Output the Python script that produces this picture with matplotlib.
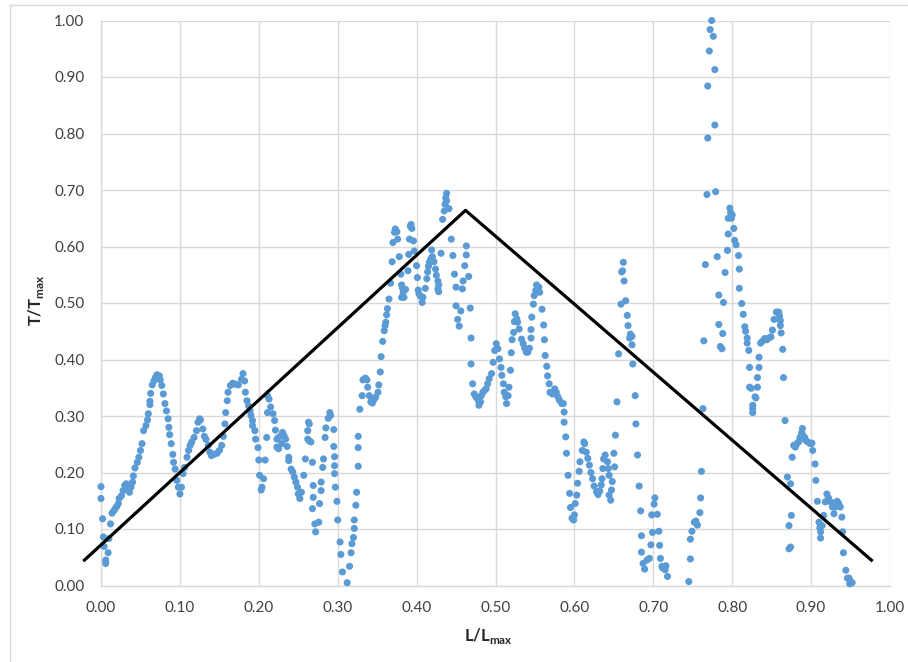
import matplotlib
matplotlib.use("Agg")
import matplotlib.pyplot as plt
from matplotlib.lines import Line2D

plt.rcParams['font.family'] = ['Lato', 'DejaVu Sans']

# ---- data ----
seg_a = [(0.000,0.175),(0.000,0.154),(0.002,0.118),(0.003,0.086),(0.004,0.069),(0.006,0.045),(0.006,0.039),
 (0.009,0.058),(0.010,0.083),(0.012,0.109),(0.014,0.128),(0.016,0.132),(0.018,0.136),(0.020,0.140),(0.022,0.145),
 (0.023,0.154),(0.026,0.159),(0.028,0.168),(0.030,0.177),(0.032,0.180),(0.034,0.174),(0.036,0.165),(0.038,0.174),
 (0.040,0.183),(0.041,0.194),(0.043,0.208),(0.046,0.218),(0.048,0.227),(0.050,0.239),(0.052,0.251),(0.054,0.274),
 (0.057,0.283),(0.059,0.293),(0.060,0.304),(0.062,0.320),(0.062,0.326),(0.063,0.340),(0.065,0.355),(0.067,0.362),
 (0.069,0.368),(0.071,0.373),(0.074,0.371),(0.075,0.364),(0.077,0.354),(0.079,0.339),(0.081,0.322),(0.083,0.309),
 (0.085,0.295),(0.086,0.280),(0.087,0.267),(0.089,0.251),(0.091,0.232),(0.092,0.218),(0.094,0.206),(0.096,0.186),
 (0.098,0.174),(0.100,0.162),(0.102,0.174),(0.104,0.198),(0.106,0.209),(0.109,0.227),(0.111,0.239),(0.113,0.248),
 (0.115,0.254),(0.118,0.262),(0.121,0.274),(0.123,0.289),(0.125,0.295),(0.126,0.293),(0.129,0.277),(0.131,0.264),
 (0.133,0.259),(0.136,0.248),(0.138,0.236),(0.140,0.230),(0.143,0.232),(0.147,0.234),(0.150,0.239),(0.153,0.248),
 (0.155,0.264),(0.157,0.286),(0.158,0.306),(0.160,0.327),(0.161,0.342),(0.164,0.354),(0.167,0.358),(0.171,0.356),
 (0.174,0.355)]

seg_b = [(0.178,0.365),(0.180,0.375),(0.182,0.362),(0.183,0.342),(0.185,0.327),(0.187,0.318),(0.189,0.309),
 (0.190,0.301),(0.192,0.292),(0.192,0.283),(0.195,0.274),(0.196,0.259),(0.199,0.244),(0.200,0.222),(0.201,0.195),
 (0.203,0.169),(0.204,0.174),(0.206,0.189),(0.208,0.222),(0.210,0.262),(0.211,0.336),(0.211,0.306),(0.213,0.330),
 (0.215,0.316),(0.218,0.304),(0.220,0.292),(0.221,0.275),(0.223,0.259),(0.223,0.245),(0.225,0.262),(0.225,0.242),
 (0.228,0.265),(0.229,0.251),(0.230,0.271),(0.232,0.265),(0.234,0.259),(0.236,0.246),(0.238,0.227),(0.238,0.221),
 (0.241,0.206),(0.243,0.201),(0.245,0.192),(0.247,0.183),(0.249,0.174),(0.250,0.162),(0.252,0.154),(0.254,0.165),
 (0.257,0.195),(0.259,0.224),(0.262,0.259),(0.262,0.274),(0.263,0.289),(0.264,0.286),(0.264,0.256),(0.266,0.254),
 (0.268,0.218),(0.269,0.177),(0.269,0.156),(0.268,0.136),(0.271,0.109),(0.272,0.095),(0.276,0.112),(0.277,0.145),
 (0.279,0.168),(0.279,0.183),(0.281,0.209),(0.282,0.224),(0.284,0.262),(0.285,0.279),(0.288,0.296),(0.290,0.306),
 (0.291,0.301),(0.295,0.276),(0.295,0.246),(0.296,0.228),(0.296,0.212),(0.296,0.198),(0.297,0.174),(0.299,0.149),
 (0.300,0.116),(0.303,0.077),(0.304,0.055),(0.306,0.024),(0.312,0.005),(0.315,0.034),(0.317,0.058),(0.318,0.074),
 (0.320,0.085),(0.321,0.101),(0.321,0.116),(0.323,0.142),(0.324,0.165),(0.326,0.211),(0.326,0.244),(0.326,0.264)]

seg_c = [(0.328,0.312),(0.331,0.336),(0.332,0.364),(0.335,0.367),(0.337,0.364),(0.338,0.351),(0.340,0.336),
 (0.342,0.325),(0.344,0.323),(0.346,0.329),(0.348,0.333),(0.351,0.342),(0.352,0.355),(0.354,0.378),(0.355,0.405),
 (0.357,0.432),(0.359,0.451),(0.360,0.460),(0.361,0.466),(0.362,0.479),(0.363,0.490),(0.365,0.507),(0.367,0.535),
 (0.369,0.573),(0.370,0.607),(0.372,0.625),(0.373,0.631),(0.375,0.626),(0.376,0.613),(0.378,0.582),(0.380,0.551),
 (0.381,0.532),(0.382,0.527),(0.383,0.519),(0.381,0.510),(0.384,0.510),(0.386,0.524),(0.389,0.557),(0.390,0.586),
 (0.391,0.613),(0.392,0.636),(0.393,0.639),(0.394,0.632),(0.396,0.610),(0.397,0.592),(0.400,0.566),(0.401,0.545),
 (0.402,0.523),(0.403,0.516),(0.405,0.512),(0.407,0.501),(0.408,0.510),(0.411,0.526),(0.413,0.543),(0.414,0.555),
 (0.415,0.565),(0.416,0.572),(0.418,0.578),(0.419,0.594),(0.420,0.582),(0.422,0.573),(0.424,0.560),(0.425,0.549),
 (0.427,0.539),(0.428,0.532),(0.427,0.525),(0.428,0.520),(0.431,0.588),(0.433,0.648),(0.435,0.663),(0.436,0.675),
 (0.437,0.686),(0.438,0.694),(0.438,0.681),(0.441,0.667),(0.444,0.613)]

seg_d = [(0.446,0.584),(0.448,0.551),(0.450,0.528),(0.450,0.495),(0.452,0.471),(0.454,0.459),(0.456,0.486),
 (0.458,0.525),(0.459,0.539),(0.461,0.566),(0.463,0.585),(0.463,0.601),(0.466,0.547),(0.468,0.491),(0.469,0.438),
 (0.469,0.392),(0.471,0.357),(0.473,0.339),(0.475,0.334),(0.478,0.328),(0.479,0.319),(0.481,0.325),(0.482,0.336),
 (0.484,0.342),(0.486,0.345),(0.488,0.348),(0.490,0.357),(0.492,0.366),(0.495,0.375),(0.497,0.395),(0.499,0.416),
 (0.501,0.428),(0.503,0.419),(0.505,0.401),(0.507,0.386),(0.508,0.372),(0.510,0.357),(0.511,0.342),(0.513,0.334),
 (0.514,0.322),(0.516,0.336),(0.517,0.351),(0.519,0.381),(0.520,0.412),(0.521,0.435),(0.523,0.448),(0.524,0.467),
 (0.525,0.481),(0.527,0.472),(0.528,0.466),(0.530,0.454),(0.533,0.436),(0.535,0.428),(0.537,0.420),(0.539,0.413),
 (0.541,0.413),(0.543,0.420),(0.545,0.438),(0.545,0.453),(0.546,0.475),(0.548,0.498),(0.549,0.513),(0.551,0.522),
 (0.552,0.532),(0.555,0.528),(0.556,0.519),(0.559,0.489),(0.561,0.461),(0.562,0.435),(0.563,0.407),(0.565,0.388),
 (0.566,0.371),(0.568,0.357),(0.569,0.342),(0.572,0.339),(0.575,0.348),(0.577,0.342),(0.579,0.334),(0.581,0.328),
 (0.584,0.322),(0.586,0.322),(0.587,0.307),(0.587,0.289),(0.589,0.263),(0.590,0.234),(0.592,0.195),(0.594,0.163),
 (0.595,0.138),(0.597,0.119),(0.599,0.116),(0.600,0.125),(0.601,0.145),(0.603,0.160),(0.604,0.181),(0.606,0.202),
 (0.607,0.219),(0.610,0.239),(0.612,0.254),(0.613,0.251),(0.615,0.236),(0.617,0.225),(0.619,0.213),(0.621,0.200),
 (0.623,0.189),(0.625,0.176),(0.628,0.166),(0.630,0.161),(0.632,0.167),(0.634,0.178),(0.635,0.189),(0.636,0.207),
 (0.637,0.224),(0.639,0.231),(0.642,0.219),(0.643,0.207),(0.644,0.195)]

seg_e = [(0.644,0.160),(0.646,0.151),(0.647,0.169),(0.648,0.184),(0.650,0.234),(0.651,0.210),(0.652,0.266),
 (0.654,0.325),(0.656,0.410),(0.659,0.498),(0.660,0.555),(0.661,0.557),(0.662,0.572),(0.663,0.539),(0.665,0.504),
 (0.667,0.478),(0.668,0.460),(0.670,0.438),(0.671,0.445),(0.673,0.441),(0.673,0.426),(0.674,0.392),(0.677,0.336),
 (0.678,0.286),(0.680,0.231),(0.682,0.176),(0.684,0.132),(0.685,0.088),(0.685,0.059),(0.687,0.039),(0.689,0.029),
 (0.692,0.045),(0.695,0.048),(0.697,0.072),(0.699,0.094),(0.698,0.125),(0.701,0.144),(0.702,0.155),(0.705,0.126),
 (0.707,0.096),(0.708,0.071),(0.709,0.048),(0.711,0.034),(0.712,0.031),(0.715,0.028),(0.716,0.035),(0.718,0.016),
 (0.745,0.007),(0.747,0.047),(0.747,0.082),(0.749,0.096),(0.752,0.112),(0.754,0.114),(0.756,0.107),(0.759,0.129),
 (0.760,0.155),(0.761,0.202),(0.763,0.313)]

seg_f = [(0.764,0.433),(0.766,0.568),(0.768,0.692),(0.769,0.792),(0.769,0.884),(0.771,0.946),(0.772,0.984),
 (0.774,1.000),(0.776,0.972),(0.778,0.913),(0.778,0.815),(0.779,0.697),(0.781,0.582),(0.783,0.514),(0.783,0.462),
 (0.785,0.423),(0.787,0.419),(0.788,0.446),(0.789,0.501),(0.791,0.554),(0.794,0.593),(0.795,0.622),(0.795,0.650),
 (0.797,0.668),(0.798,0.660),(0.799,0.650),(0.800,0.656),(0.802,0.632),(0.803,0.611),(0.805,0.603),(0.808,0.584),
 (0.809,0.560),(0.809,0.526),(0.812,0.499),(0.814,0.480),(0.816,0.458),(0.817,0.450),(0.819,0.438),(0.819,0.429),
 (0.821,0.416),(0.822,0.386),(0.822,0.351),(0.824,0.349),(0.826,0.319),(0.826,0.313),(0.826,0.306),(0.829,0.334),
 (0.830,0.332),(0.832,0.351),(0.832,0.368),(0.834,0.386),(0.834,0.404),(0.836,0.429),(0.838,0.432),(0.841,0.437),
 (0.844,0.435),(0.846,0.438),(0.849,0.440),(0.851,0.452),(0.853,0.471),(0.856,0.484),(0.858,0.483)]

seg_g = [(0.859,0.484),(0.860,0.477),(0.861,0.469),(0.861,0.460),(0.862,0.447),(0.864,0.418),(0.865,0.368),
 (0.867,0.292),(0.870,0.192),(0.874,0.180),(0.875,0.124),(0.872,0.106),(0.874,0.068),(0.872,0.065),(0.876,0.227),
 (0.878,0.248),(0.880,0.245),(0.882,0.251),(0.884,0.254),(0.886,0.262),(0.888,0.270),(0.889,0.278),(0.889,0.267),
 (0.892,0.262),(0.893,0.257),(0.896,0.254),(0.899,0.251),(0.901,0.252),(0.902,0.239),(0.905,0.215),(0.906,0.186),
 (0.908,0.149),(0.910,0.112),(0.911,0.102),(0.912,0.095),(0.912,0.084),(0.914,0.106),(0.916,0.124),(0.918,0.148),
 (0.920,0.162),(0.922,0.155),(0.925,0.148),(0.927,0.139),(0.929,0.127),(0.931,0.139),(0.933,0.149),(0.935,0.145),
 (0.937,0.139),(0.939,0.121),(0.940,0.095),(0.941,0.058),(0.944,0.027),(0.946,0.013),(0.948,0.012),(0.950,0.006),
 (0.952,0.005),(0.949,0.003),(0.948,0.013)]

segments = [seg_a, seg_b, seg_c, seg_d, seg_e, seg_f, seg_g]
x_vals = [p[0] for s in segments for p in s]
y_vals = [p[1] for s in segments for p in s]

# triangular envelope line
trend_x = [-0.0225, 0.462, 0.978]
trend_y = [0.043, 0.664, 0.043]

x_ticks = [0.0, 0.1, 0.2, 0.3, 0.4, 0.5, 0.6, 0.7, 0.8, 0.9, 1.0]
y_ticks = [0.0, 0.1, 0.2, 0.3, 0.4, 0.5, 0.6, 0.7, 0.8, 0.9, 1.0]

# ---- figure ----
W, H = 908, 662
fig = plt.figure(figsize=(W/100, H/100), dpi=100)
ax = fig.add_axes([101/W, 1 - 585.5/H, (890-101)/W, (585.5-20.5)/H])

grid_c = '#d9d9d9'
ax.set_xlim(0, 1.0)
ax.set_ylim(0, 1.0)
ax.set_xticks(x_ticks)
ax.set_yticks(y_ticks)
ax.set_xticklabels([f'{v:.2f}' for v in x_ticks])
ax.set_yticklabels([f'{v:.2f}' for v in y_ticks])
ax.grid(True, color=grid_c, linewidth=1.0)
ax.set_axisbelow(True)
for sp in ['top', 'right']:
    ax.spines[sp].set_visible(False)
for sp in ['left', 'bottom']:
    ax.spines[sp].set_color(grid_c)
    ax.spines[sp].set_linewidth(1.0)
ax.tick_params(length=0, labelsize=11, labelcolor='#404040')
ax.tick_params(axis='x', pad=11)
ax.tick_params(axis='y', pad=12)

ax.scatter(x_vals, y_vals, s=26, color='#5b9bd5', edgecolors='none', zorder=3, clip_on=False)
ax.plot(trend_x, trend_y, color='black', linewidth=2.3, zorder=4, clip_on=False,
        solid_capstyle='butt')

fig.text(488/W, 1 - 636/H, r'L/L$_{\mathregular{max}}$', ha='center', va='center',
         fontsize=12, fontweight='bold', color='#262626')
fig.text(36/W, 1 - 300/H, r'T/T$_{\mathregular{max}}$', ha='center', va='center',
         rotation=90, fontsize=12, fontweight='bold', color='#262626')

# partial outer frame of the screenshot
fig.add_artist(Line2D([10/W, 1.0], [1 - 5/H, 1 - 5/H], color='#d9d9d9', linewidth=1.0))
fig.add_artist(Line2D([10/W, 10/W], [1 - 5/H, 0.0], color='#d9d9d9', linewidth=1.0))

fig.savefig('out.png', dpi=100, facecolor='white')
